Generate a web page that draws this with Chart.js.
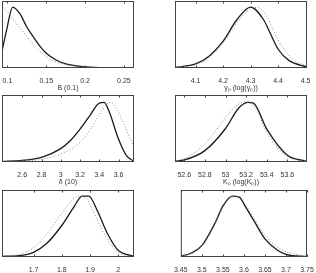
<!DOCTYPE html>
<html>
<head>
<meta charset="utf-8">
<script src="https://cdn.jsdelivr.net/npm/chart.js@4.4.1/dist/chart.umd.min.js"></script>
<style>
  html, body { margin: 0; padding: 0; background: #fff; }
  body { width: 316px; height: 273px; position: relative; overflow: hidden; }
  canvas { position: absolute; }
</style>
</head>
<body>
<canvas id="c1"></canvas>
<canvas id="c2"></canvas>
<canvas id="c3"></canvas>
<canvas id="c4"></canvas>
<canvas id="c5"></canvas>
<canvas id="c6"></canvas>
<script>
// ---- data (y = density, scaled so 1 = top of the box) ----

// B (0.1)
const bTicks = [0.1, 0.15, 0.2, 0.25];
const bSolidX = [0.093, 0.099, 0.1068, 0.116, 0.1246, 0.133, 0.1415, 0.15, 0.1627, 0.1754, 0.1966, 0.218, 0.263];
const bSolidY = [0.25, 0.57, 0.91, 0.81, 0.62, 0.47, 0.33, 0.22, 0.12, 0.06, 0.02, 0.005, 0];
const bDotX = [0.0955, 0.1034, 0.116, 0.1246, 0.133, 0.1415, 0.15, 0.1627, 0.175, 0.197, 0.263];
const bDotY = [0.9, 0.79, 0.60, 0.48, 0.35, 0.25, 0.17, 0.09, 0.05, 0.015, 0];

// gamma_p
const gTicks = [4.1, 4.2, 4.3, 4.4, 4.5];
const gSolidX = [4.025, 4.1, 4.15, 4.2, 4.25, 4.3, 4.347, 4.37, 4.4, 4.44, 4.505];
const gSolidY = [0.01, 0.06, 0.18, 0.40, 0.72, 0.91, 0.72, 0.53, 0.28, 0.11, 0.015];
const gDotX = [4.025, 4.1, 4.15, 4.2, 4.25, 4.3, 4.323, 4.35, 4.4, 4.45, 4.505];
const gDotY = [0.01, 0.05, 0.16, 0.37, 0.68, 0.88, 0.9, 0.83, 0.42, 0.14, 0.03];

// delta (10)
const dTicks = [2.6, 2.8, 3, 3.2, 3.4, 3.6];
const dSolidX = [2.39, 2.6, 2.8, 3.0, 3.1, 3.2, 3.3, 3.4, 3.45, 3.5, 3.6, 3.68, 3.76];
const dSolidY = [0.01, 0.025, 0.07, 0.2, 0.32, 0.49, 0.69, 0.88, 0.89, 0.76, 0.34, 0.1, 0.01];
const dDotX = [2.39, 2.6, 2.8, 3.0, 3.2, 3.3, 3.4, 3.47, 3.52, 3.58, 3.64, 3.76];
const dDotY = [0.005, 0.015, 0.04, 0.12, 0.29, 0.47, 0.71, 0.85, 0.89, 0.8, 0.61, 0.22];

// K_p
const kTicks = [52.6, 52.8, 53, 53.2, 53.4, 53.6];
const kSolidX = [52.51, 52.6, 52.8, 53.0, 53.13, 53.22, 53.27, 53.4, 53.6, 53.79];
const kSolidY = [0.01, 0.03, 0.17, 0.5, 0.81, 0.89, 0.88, 0.49, 0.1, 0.01];
const kDotX = [52.51, 52.6, 52.8, 53.0, 53.1, 53.19, 53.3, 53.4, 53.6, 53.79];
const kDotY = [0.02, 0.05, 0.27, 0.66, 0.83, 0.9, 0.78, 0.44, 0.08, 0.01];

// p1 (1)
const p1Ticks = [1.7, 1.8, 1.9, 2];
const p1SolidX = [1.588, 1.649, 1.7, 1.746, 1.8, 1.842, 1.872, 1.896, 1.926, 1.963, 2.0, 2.056];
const p1SolidY = [0.01, 0.02, 0.07, 0.2, 0.47, 0.74, 0.91, 0.91, 0.69, 0.34, 0.1, 0.01];
const p1DotX = [1.588, 1.649, 1.7, 1.746, 1.8, 1.83, 1.86, 1.885, 1.926, 1.963, 2.0, 2.056];
const p1DotY = [0.01, 0.04, 0.14, 0.34, 0.65, 0.82, 0.91, 0.88, 0.55, 0.25, 0.07, 0.005];

// p2 (1)
const p2Ticks = [3.45, 3.5, 3.55, 3.6, 3.65, 3.7, 3.75];
const p2X = [3.45, 3.475, 3.5, 3.53, 3.55, 3.572, 3.59, 3.6, 3.624, 3.65, 3.68, 3.7, 3.75];
const p2SolidY = [0.01, 0.06, 0.17, 0.49, 0.76, 0.91, 0.89, 0.79, 0.54, 0.27, 0.1, 0.04, 0.005];
const p2DotY = [0.01, 0.05, 0.16, 0.47, 0.74, 0.9, 0.9, 0.82, 0.58, 0.32, 0.15, 0.08, 0.01];

/* -------------------- HELPERS -------------------- */

const FONT = "'Liberation Sans', Arial, sans-serif";
const BOX_W = 132;
const BOX_H = 68;

function pts(xs, ys) {
    return xs.map((x, i) => ({ x: x, y: ys[i] }));
}

// box frame + MATLAB style inward ticks on top and bottom
const framePlugin = {
    id: 'frame',
    afterDraw(chart) {
        const { ctx, chartArea: a } = chart;
        const xs = chart.scales.x;
        ctx.save();
        ctx.strokeStyle = '#444';
        ctx.lineWidth = 1;
        ctx.strokeRect(a.left + 0.5, a.top + 0.5, a.right - a.left - 1, a.bottom - a.top - 1);
        ctx.beginPath();
        xs.ticks.forEach(t => {
            const px = Math.round(xs.getPixelForValue(t.value)) + 0.5;
            ctx.moveTo(px, a.bottom);
            ctx.lineTo(px, a.bottom - 2.5);
            ctx.moveTo(px, a.top);
            ctx.lineTo(px, a.top + 2.5);
        });
        ctx.stroke();
        ctx.restore();
    }
};

function makePanel(id, left, top, xMin, xMax, ticks, title, solid, dotted) {
    const el = document.getElementById(id);
    el.width = BOX_W + 16;
    el.height = BOX_H + 24;
    el.style.left = (left - 2) + 'px';
    el.style.top = (top - 1) + 'px';

    new Chart(el, {
        type: 'line',
        data: {
            datasets: [
                {
                    data: dotted,
                    borderColor: '#8a8a8a',
                    borderWidth: 1,
                    borderDash: [1, 2],
                    pointRadius: 0,
                    cubicInterpolationMode: 'monotone'
                },
                {
                    data: solid,
                    borderColor: '#1a1a1a',
                    borderWidth: 1.3,
                    pointRadius: 0,
                    cubicInterpolationMode: 'monotone'
                }
            ]
        },
        options: {
            responsive: false,
            animation: false,
            devicePixelRatio: 1,
            layout: { padding: { left: 2, right: 14, top: 1, bottom: 0 } },
            plugins: { legend: { display: false }, tooltip: { enabled: false } },
            scales: {
                x: {
                    type: 'linear',
                    min: xMin,
                    max: xMax,
                    grid: { display: false },
                    border: { display: false },
                    afterBuildTicks: s => { s.ticks = ticks.map(v => ({ value: v })); },
                    afterFit: s => { s.height = 24; },
                    ticks: {
                        autoSkip: false,
                        maxRotation: 0,
                        padding: 1,
                        color: '#333',
                        font: { family: FONT, size: 7 },
                        callback: v => String(v)
                    },
                    title: {
                        display: true,
                        text: title,
                        color: '#333',
                        padding: { top: 0, bottom: 0 },
                        font: { family: FONT, size: 7 }
                    }
                },
                y: {
                    display: false,
                    min: 0,
                    max: 1
                }
            }
        },
        plugins: [framePlugin]
    });
}

makePanel('c1', 2, 1, 0.093, 0.263, bTicks, 'B (0.1)', pts(bSolidX, bSolidY), pts(bDotX, bDotY));
makePanel('c2', 175, 1, 4.025, 4.505, gTicks, 'γₚ (log(γₚ))', pts(gSolidX, gSolidY), pts(gDotX, gDotY));
makePanel('c3', 2, 95, 2.39, 3.76, dTicks, 'δ (10)', pts(dSolidX, dSolidY), pts(dDotX, dDotY));
makePanel('c4', 175, 95, 52.51, 53.79, kTicks, 'Kₚ (log(Kₚ))', pts(kSolidX, kSolidY), pts(kDotX, kDotY));
makePanel('c5', 2, 190, 1.588, 2.056, p1Ticks, 'p1 (1)', pts(p1SolidX, p1SolidY), pts(p1DotX, p1DotY));
makePanel('c6', 175, 190, 3.45, 3.75, p2Ticks, 'p2 (1)', pts(p2X, p2SolidY), pts(p2X, p2DotY));
</script>
</body>
</html>
